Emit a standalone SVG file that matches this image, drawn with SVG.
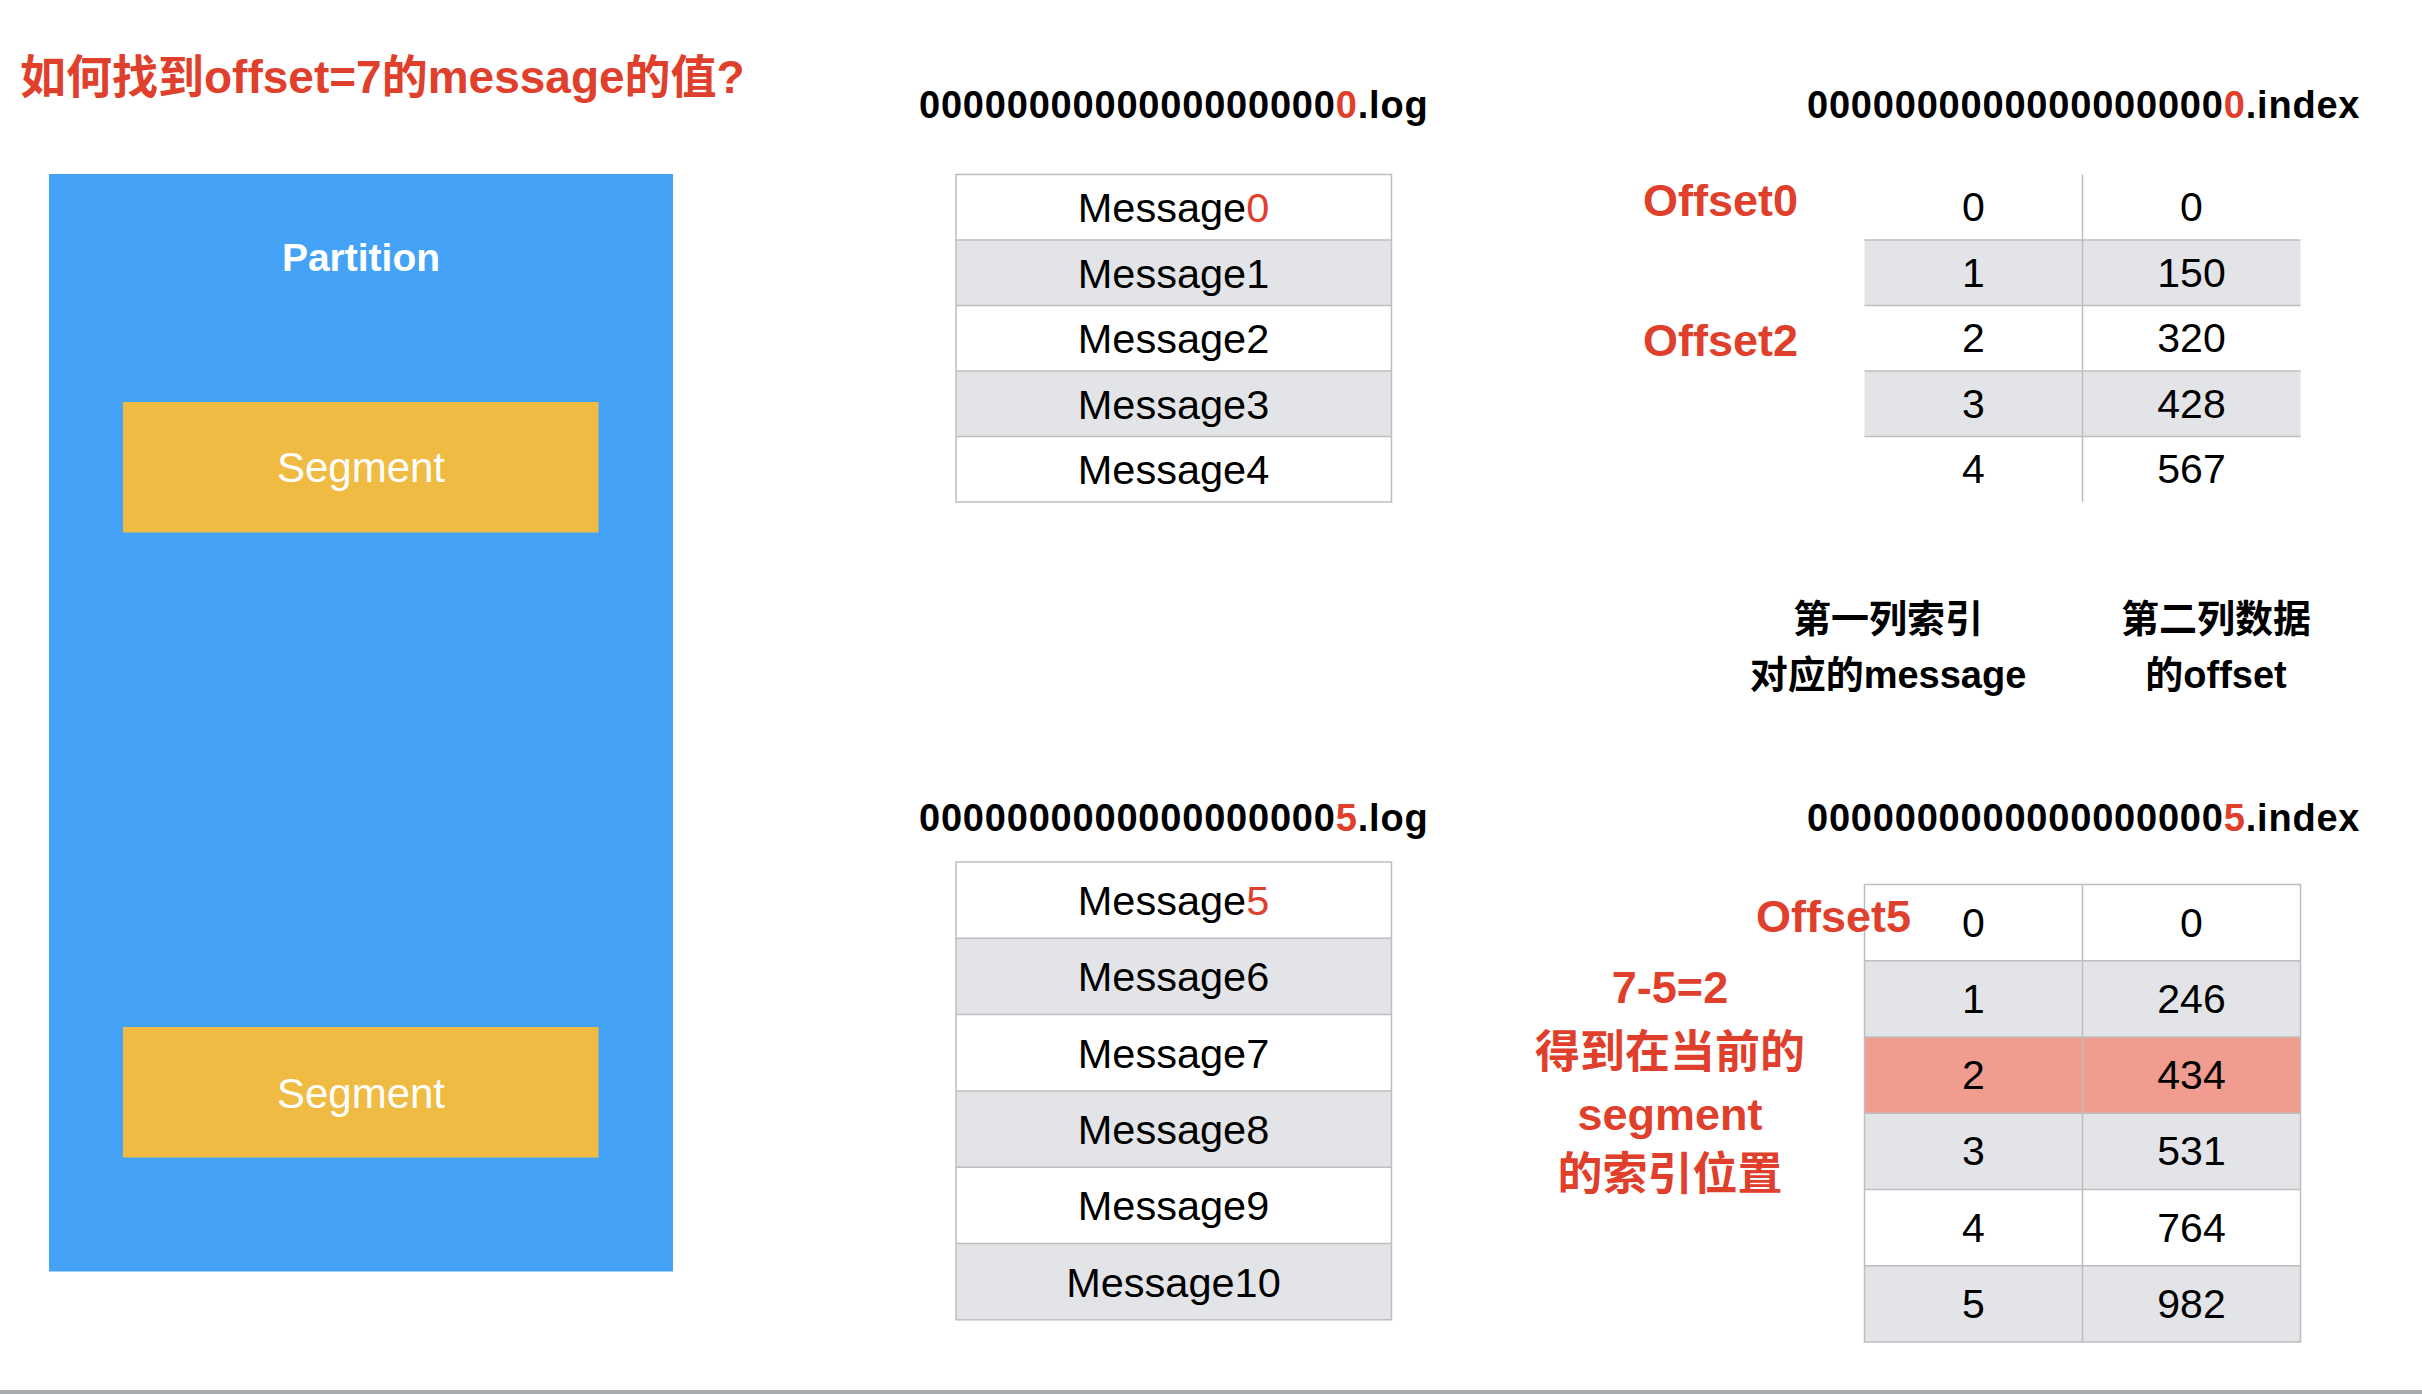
<svg xmlns="http://www.w3.org/2000/svg" width="2422" height="1394" viewBox="0 0 2422 1394">
<style>
.lat{font-family:"Liberation Sans","Noto Sans CJK SC",sans-serif}
.cjk{font-family:"Liberation Sans","Noto Sans CJK SC",sans-serif;font-weight:bold}
.red{fill:#E0402B}
.hdr{font-family:"Liberation Sans",sans-serif;font-weight:bold;font-size:38px;letter-spacing:0.8px;fill:#000}
.msg{font-family:"Liberation Sans",sans-serif;font-size:41.5px;fill:#000;text-anchor:middle}
.num{font-family:"Liberation Sans",sans-serif;font-size:41px;fill:#000;text-anchor:middle}
.off{font-family:"Liberation Sans",sans-serif;font-weight:bold;font-size:45px;fill:#E0402B}
.w{fill:#FFFFFF}
.g{fill:#E3E4E7}
.hl{fill:#F09C8F}
.ln{stroke:#BEBEBE;stroke-width:1.5;fill:none}
.seg{fill:#F0BB42}
.segt{font-family:"Liberation Sans",sans-serif;font-size:42px;fill:#FFFFFF;text-anchor:middle}
.lab{font-family:"Liberation Sans","Noto Sans CJK SC",sans-serif;font-weight:bold;font-size:38px;fill:#000;text-anchor:middle}
.ann{font-family:"Liberation Sans","Noto Sans CJK SC",sans-serif;font-weight:bold;font-size:45px;fill:#E0402B;text-anchor:middle}
</style>
<rect x="0" y="0" width="2422" height="1394" fill="#FFFFFF"/>

<g id="title">
<text x="20" y="93" class="cjk red" font-size="46">如何找到offset=7的message的值?</text>
</g>

<g id="partition">
<rect x="49" y="174" width="624" height="1097.5" fill="#44A3F7"/>
<text x="361" y="271" font-family="Liberation Sans, sans-serif" font-weight="bold" font-size="39" fill="#FFFFFF" text-anchor="middle">Partition</text>
</g>
<g id="segment1">
<rect x="123" y="402" width="475.5" height="130.5" class="seg"/>
<text x="361" y="481.5" class="segt">Segment</text>
</g>
<g id="segment2">
<rect x="123" y="1027" width="475.5" height="130.5" class="seg"/>
<text x="361" y="1107.5" class="segt">Segment</text>
</g>

<g id="log0">
<text x="919" y="118" class="hdr">0000000000000000000<tspan class="red">0</tspan>.log</text>
<rect x="956" y="174.5" width="435.5" height="65.5" class="w"/>
<rect x="956" y="240" width="435.5" height="65.5" class="g"/>
<rect x="956" y="305.5" width="435.5" height="65.5" class="w"/>
<rect x="956" y="371" width="435.5" height="65.5" class="g"/>
<rect x="956" y="436.5" width="435.5" height="65.5" class="w"/>
<rect x="956" y="174.5" width="435.5" height="327.5" class="ln"/>
<path class="ln" d="M956 240H1391.5M956 305.5H1391.5M956 371H1391.5M956 436.5H1391.5"/>
<text x="1173.5" y="222" class="msg">Message<tspan class="red">0</tspan></text>
<text x="1173.5" y="287.5" class="msg">Message1</text>
<text x="1173.5" y="353" class="msg">Message2</text>
<text x="1173.5" y="418.5" class="msg">Message3</text>
<text x="1173.5" y="484" class="msg">Message4</text>
</g>

<g id="index0">
<text x="1807" y="118" class="hdr">0000000000000000000<tspan class="red">0</tspan>.index</text>
<rect x="1864.5" y="240" width="436" height="65.5" class="g"/>
<rect x="1864.5" y="371" width="436" height="65.5" class="g"/>
<path class="ln" d="M1864.5 240H2300.5M1864.5 305.5H2300.5M1864.5 371H2300.5M1864.5 436.5H2300.5M2082.5 174.5V502"/>
<text x="1973.5" y="221" class="num">0</text>
<text x="2191.5" y="221" class="num">0</text>
<text x="1973.5" y="286.5" class="num">1</text>
<text x="2191.5" y="286.5" class="num">150</text>
<text x="1973.5" y="352" class="num">2</text>
<text x="2191.5" y="352" class="num">320</text>
<text x="1973.5" y="417.5" class="num">3</text>
<text x="2191.5" y="417.5" class="num">428</text>
<text x="1973.5" y="483" class="num">4</text>
<text x="2191.5" y="483" class="num">567</text>
</g>

<g id="offset0-label"><text x="1643" y="216" class="off">Offset0</text></g>
<g id="offset2-label"><text x="1643" y="356" class="off">Offset2</text></g>

<g id="column-notes">
<text x="1888" y="632" class="lab">第一列索引</text>
<text x="1888" y="688" class="lab">对应的message</text>
<text x="2216" y="632" class="lab">第二列数据</text>
<text x="2216" y="688" class="lab">的offset</text>
</g>

<g id="log5">
<text x="919" y="831" class="hdr">0000000000000000000<tspan class="red">5</tspan>.log</text>
<rect x="956" y="862" width="435.5" height="76.3" class="w"/>
<rect x="956" y="938.3" width="435.5" height="76.3" class="g"/>
<rect x="956" y="1014.6" width="435.5" height="76.3" class="w"/>
<rect x="956" y="1090.9" width="435.5" height="76.3" class="g"/>
<rect x="956" y="1167.2" width="435.5" height="76.3" class="w"/>
<rect x="956" y="1243.5" width="435.5" height="76.3" class="g"/>
<rect x="956" y="862" width="435.5" height="457.8" class="ln"/>
<path class="ln" d="M956 938.3H1391.5M956 1014.6H1391.5M956 1090.9H1391.5M956 1167.2H1391.5M956 1243.5H1391.5"/>
<text x="1173.5" y="915" class="msg">Message<tspan class="red">5</tspan></text>
<text x="1173.5" y="991.3" class="msg">Message6</text>
<text x="1173.5" y="1067.6" class="msg">Message7</text>
<text x="1173.5" y="1143.9" class="msg">Message8</text>
<text x="1173.5" y="1220.2" class="msg">Message9</text>
<text x="1173.5" y="1296.5" class="msg">Message10</text>
</g>

<g id="index5">
<text x="1807" y="831" class="hdr">0000000000000000000<tspan class="red">5</tspan>.index</text>
<rect x="1864.5" y="884.5" width="436" height="76.25" class="w"/>
<rect x="1864.5" y="960.75" width="436" height="76.25" class="g"/>
<rect x="1864.5" y="1037" width="436" height="76.25" class="hl"/>
<rect x="1864.5" y="1113.25" width="436" height="76.25" class="g"/>
<rect x="1864.5" y="1189.5" width="436" height="76.25" class="w"/>
<rect x="1864.5" y="1265.75" width="436" height="76.25" class="g"/>
<rect x="1864.5" y="884.5" width="436" height="457.5" class="ln"/>
<path class="ln" d="M1864.5 960.75H2300.5M1864.5 1037H2300.5M1864.5 1113.25H2300.5M1864.5 1189.5H2300.5M1864.5 1265.75H2300.5M2082.5 884.5V1342"/>
<text x="1973.5" y="936.6" class="num">0</text>
<text x="2191.5" y="936.6" class="num">0</text>
<text x="1973.5" y="1012.9" class="num">1</text>
<text x="2191.5" y="1012.9" class="num">246</text>
<text x="1973.5" y="1089.1" class="num">2</text>
<text x="2191.5" y="1089.1" class="num">434</text>
<text x="1973.5" y="1165.4" class="num">3</text>
<text x="2191.5" y="1165.4" class="num">531</text>
<text x="1973.5" y="1241.6" class="num">4</text>
<text x="2191.5" y="1241.6" class="num">764</text>
<text x="1973.5" y="1317.9" class="num">5</text>
<text x="2191.5" y="1317.9" class="num">982</text>
</g>

<g id="offset5-label"><text x="1756" y="932" class="off">Offset5</text></g>

<g id="annotation">
<text x="1670" y="1003" class="ann">7-5=2</text>
<text x="1670" y="1068" class="ann">得到在当前的</text>
<text x="1670" y="1130" class="ann">segment</text>
<text x="1670" y="1190" class="ann">的索引位置</text>
</g>

<rect id="bottom-rule" x="0" y="1390" width="2422" height="4" fill="#A7ABAF"/>
</svg>
